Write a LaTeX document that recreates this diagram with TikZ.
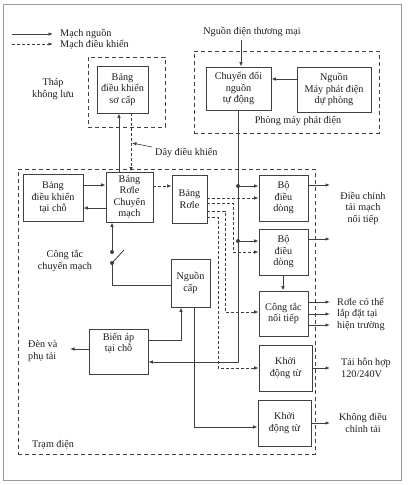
\documentclass[tikz,border=0pt]{standalone}
\usepackage{fontspec}
\setmainfont{Liberation Serif}
\usetikzlibrary{arrows.meta}
\definecolor{lc}{HTML}{404040}
\definecolor{tc}{HTML}{1E1E1E}
\definecolor{fc}{HTML}{9A9A9A}
\begin{document}
\begin{tikzpicture}[x=1pt,y=-1pt,
  line/.style={draw=lc, line width=0.85pt},
  pw/.style={line, -{Latex[length=4.5pt,width=3.6pt]}},
  ctl/.style={pw, dash pattern=on 3pt off 2pt},
  box/.style={draw=lc, line width=0.85pt, fill=white, align=center, inner sep=1pt,
    font=\fontsize{10.2}{11.5}\selectfont, text=tc},
  zone/.style={draw=lc, line width=0.85pt, dash pattern=on 4pt off 3pt, inner sep=0pt},
  lbl/.style={inner sep=0pt, align=center, font=\fontsize{10.2}{11.5}\selectfont, text=tc},
  dot/.style={circle, fill=lc, inner sep=0pt, minimum size=4pt},
]
\useasboundingbox (0,0) rectangle (409,485);
% outer frame
\node[draw=fc, line width=0.8pt, minimum width=398pt, minimum height=476pt, inner sep=0pt] (frame) at (202,242) {};

% zones
\node[zone, minimum width=297pt, minimum height=285pt] (tram) at (166.5,311.5) {};
\node[zone, minimum width=185pt, minimum height=82pt] (phong) at (286.5,92) {};
\node[zone, minimum width=77pt, minimum height=70pt] (thapz) at (126.5,92) {};

% legend
\coordinate (l1a) at (12,34); \coordinate (l1b) at (53,34);
\coordinate (l2a) at (12,44); \coordinate (l2b) at (53,44);
\draw[pw] (l1a) -- (l1b);
\draw[ctl] (l2a) -- (l2b);
\node[lbl, anchor=west] (leg1) at (60,34) {Mạch nguồn};
\node[lbl, anchor=west] (leg2) at (60,45) {Mạch điều khiển};

% labels
\node[lbl] (thap) at (53,89) {Tháp\\không lưu};
\node[lbl] (ndtm) at (252,32) {Nguồn điện thương mại};
\node[lbl] (pmpd) at (298,121) {Phòng máy phát điện};
\node[lbl, anchor=west] (ddk) at (155,153) {Dây điều khiển};
\node[lbl] (ctcm) at (65,261) {Công tắc\\chuyển mạch};
\node[lbl, anchor=west, align=left] (den) at (28,351) {Đèn và\\phụ tải};
\node[lbl, anchor=west] (tram t) at (32,445) {Trạm điện};
\node[lbl] (out1) at (363,208) {Điều chỉnh\\tải mạch\\nối tiếp};
\node[lbl, anchor=west, align=left] (out2) at (337,314) {Rơle có thể\\lắp đặt tại\\hiện trường};
\node[lbl, anchor=west, align=left] (out3) at (341,368) {Tải hỗn hợp\\120/240V};
\node[lbl] (out4) at (363,423) {Không điều\\chỉnh tải};

% boxes
\node[box, minimum width=51pt, minimum height=47pt] (sc) at (122.5,89.5) {Bảng\\điều khiển\\sơ cấp};
\node[box, minimum width=65pt, minimum height=43pt] (cd) at (238.5,88.5) {Chuyển đổi\\nguồn\\tự động};
\node[box, minimum width=74pt, minimum height=45pt] (mp) at (334,89.5) {Nguồn\\Máy phát điện\\dự phòng};
\node[box, minimum width=60pt, minimum height=47pt] (dk) at (53,197.5) {Bảng\\điều khiển\\tại chỗ};
\node[box, minimum width=47pt, minimum height=50pt] (rcm) at (129.5,197) {Bảng\\Rơle\\Chuyển\\mạch};
\node[box, minimum width=35pt, minimum height=48pt] (br) at (189.5,199) {Bảng\\Rơle};
\node[box, minimum width=49pt, minimum height=46pt] (bd1) at (283.5,198) {Bộ\\điều\\dòng};
\node[box, minimum width=49pt, minimum height=46pt] (bd2) at (283.5,252) {Bộ\\điều\\dòng};
\node[box, minimum width=49pt, minimum height=45pt] (ct) at (283.5,313.5) {Công tắc\\nối tiếp};
\node[box, minimum width=53pt, minimum height=46pt] (kd1) at (285.5,368) {Khởi\\động từ};
\node[box, minimum width=53pt, minimum height=46pt] (kd2) at (284.5,423) {Khởi\\động từ};
\node[box, minimum width=39pt, minimum height=48pt] (nc) at (190.5,283) {Nguồn\\cấp};
\node[box, minimum width=59pt, minimum height=45pt] (ba) at (118.5,351.5) {};
\node[lbl] (bat) at (118.5,343) {Biến áp\\tại chỗ};

% top connections
\coordinate (ndtmb) at (241,40);
\draw[pw] (ndtmb) -- (ndtmb |- cd.north);
\draw[pw] (mp.west |- 0,79) -- (cd.east |- 0,79);
\draw[pw] (rcm.north -| 119,0) -- (sc.south -| 119,0);
\draw[ctl] (sc.south -| 131,0) -- (rcm.north -| 131,0);
\coordinate (ddks) at (152,147); \coordinate (ddkp) at (132,143);
\draw[pw, line width=0.6pt] (ddks) -- (ddkp);

% main power line
\draw[pw] (cd.south) |- (ba.east |- 0,362);
\node[dot] (j1) at (238,186) {};
\node[dot] (j2) at (238,241) {};
\draw[pw] (j1.center) -- (bd1.west |- j1);
\draw[pw] (j2.center) -- (bd2.west |- j2);

% control board links
\draw[pw] (dk.east |- 0,185) -- (rcm.west |- 0,185);
\draw[pw] (rcm.west |- 0,208) -- (dk.east |- 0,208);
\draw[ctl] (rcm.east |- 0,186) -- (br.west |- 0,186);

% relay board control lines
\draw[ctl] (br.east |- 0,198) -- (bd1.west |- 0,198);
\draw[ctl] (br.east |- 0,203) -- (233,203) |- (bd2.west |- 0,252);
\draw[ctl] (br.east |- 0,211) -- (225,211) |- (ct.west |- 0,312);
\draw[ctl] (br.east |- 0,217) -- (218,217) |- (kd1.west |- 0,368);

% switch
\coordinate (sw1) at (112,252); \coordinate (sw2) at (112,263); \coordinate (swb) at (124,250);
\draw[pw] (sw1) -- (sw1 |- rcm.south);
\draw[line] (nc.west |- 0,285) -| (sw2);
\draw[line] (sw2) -- (swb);
\node[dot] (s1) at (sw1) {};
\node[dot] (s2) at (sw2) {};

% supply and transformer
\draw[pw] (ba.east |- 0,340) -| (nc.south -| 181,0);
\draw[pw] (nc.south -| 194,0) |- (kd2.west |- 0,427);
\coordinate (denp) at (70,349);
\draw[pw] (ba.west |- denp) -- (denp);
\draw[pw] (bd2.south -| 283,0) -- (ct.north -| 283,0);

% outputs
\coordinate (o1) at (330,185); \coordinate (o2) at (330,239);
\coordinate (o3) at (330,302); \coordinate (o4) at (330,314); \coordinate (o5) at (330,325);
\coordinate (o6) at (330,368); \coordinate (o7) at (330,423);
\draw[pw] (bd1.east |- o1) -- (o1);
\draw[pw] (bd2.east |- o2) -- (o2);
\draw[pw] (ct.east |- o3) -- (o3);
\draw[pw] (ct.east |- o4) -- (o4);
\draw[pw] (ct.east |- o5) -- (o5);
\draw[pw] (kd1.east |- o6) -- (o6);
\draw[pw] (kd2.east |- o7) -- (o7);
\end{tikzpicture}
\end{document}
